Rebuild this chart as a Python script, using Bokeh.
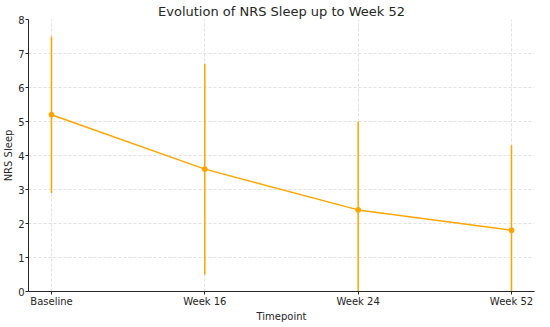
from bokeh.plotting import figure
from bokeh.models import ColumnDataSource, FixedTicker, Range1d
from bokeh.embed import file_html
from bokeh.resources import INLINE

timepoints = ["Baseline", "Week 16", "Week 24", "Week 52"]
mean_nrs = [5.2, 3.6, 2.4, 1.8]
sd_nrs = [2.3, 3.1, 2.6, 2.5]
y_ticks = [0, 1, 2, 3, 4, 5, 6, 7, 8]

xs = list(range(len(timepoints)))
src = ColumnDataSource(dict(
    x=xs,
    y=mean_nrs,
    lo=[m - s for m, s in zip(mean_nrs, sd_nrs)],
    hi=[m + s for m, s in zip(mean_nrs, sd_nrs)],
))

FONT = "DejaVu Sans"
ORANGE = "#FFA500"

p = figure(frame_width=506, frame_height=272, output_backend="svg", toolbar_location=None,
           title="Evolution of NRS Sleep up to Week 52",
           x_range=Range1d(-0.15, len(timepoints) - 1 + 0.15),
           y_range=Range1d(0, 8),
           min_border_left=0, min_border_right=3, min_border_top=0, min_border_bottom=0)

p.title.align = "center"
p.title.text_font = FONT
p.title.text_font_size = "13px"
p.title.text_font_style = "normal"
p.title.text_color = "#262626"
p.title.standoff = 2

p.segment(x0="x", y0="lo", x1="x", y1="hi", source=src, line_color=ORANGE, line_width=1.5)
p.line(x="x", y="y", source=src, line_color=ORANGE, line_width=1.5)
p.scatter(x="x", y="y", source=src, size=5, fill_color=ORANGE, line_color=ORANGE)

p.xaxis.ticker = FixedTicker(ticks=xs)
p.xaxis.major_label_overrides = {i: t for i, t in enumerate(timepoints)}
p.yaxis.ticker = FixedTicker(ticks=y_ticks)

p.xaxis.axis_label = "Timepoint"
p.yaxis.axis_label = "NRS Sleep"

for ax in (p.xaxis, p.yaxis):
    ax.axis_label_text_font = FONT
    ax.axis_label_text_font_size = "10px"
    ax.axis_label_text_font_style = "normal"
    ax.axis_label_text_color = "#262626"
    ax.major_label_text_font = FONT
    ax.major_label_text_font_size = "10px"
    ax.major_label_text_color = "#262626"
    ax.axis_line_color = "#262626"
    ax.axis_line_width = 1
    ax.major_tick_line_color = "#262626"
    ax.major_tick_out = 3
    ax.major_tick_in = 0
    ax.minor_tick_line_color = None
    ax.axis_label_standoff = 1
    ax.major_label_standoff = 1

p.grid.grid_line_color = "#d9d9d9"
p.grid.grid_line_dash = "3 2"
p.grid.grid_line_width = 0.8
p.outline_line_color = None
p.background_fill_color = "white"

open("out.html", "w").write(file_html(p, INLINE))
